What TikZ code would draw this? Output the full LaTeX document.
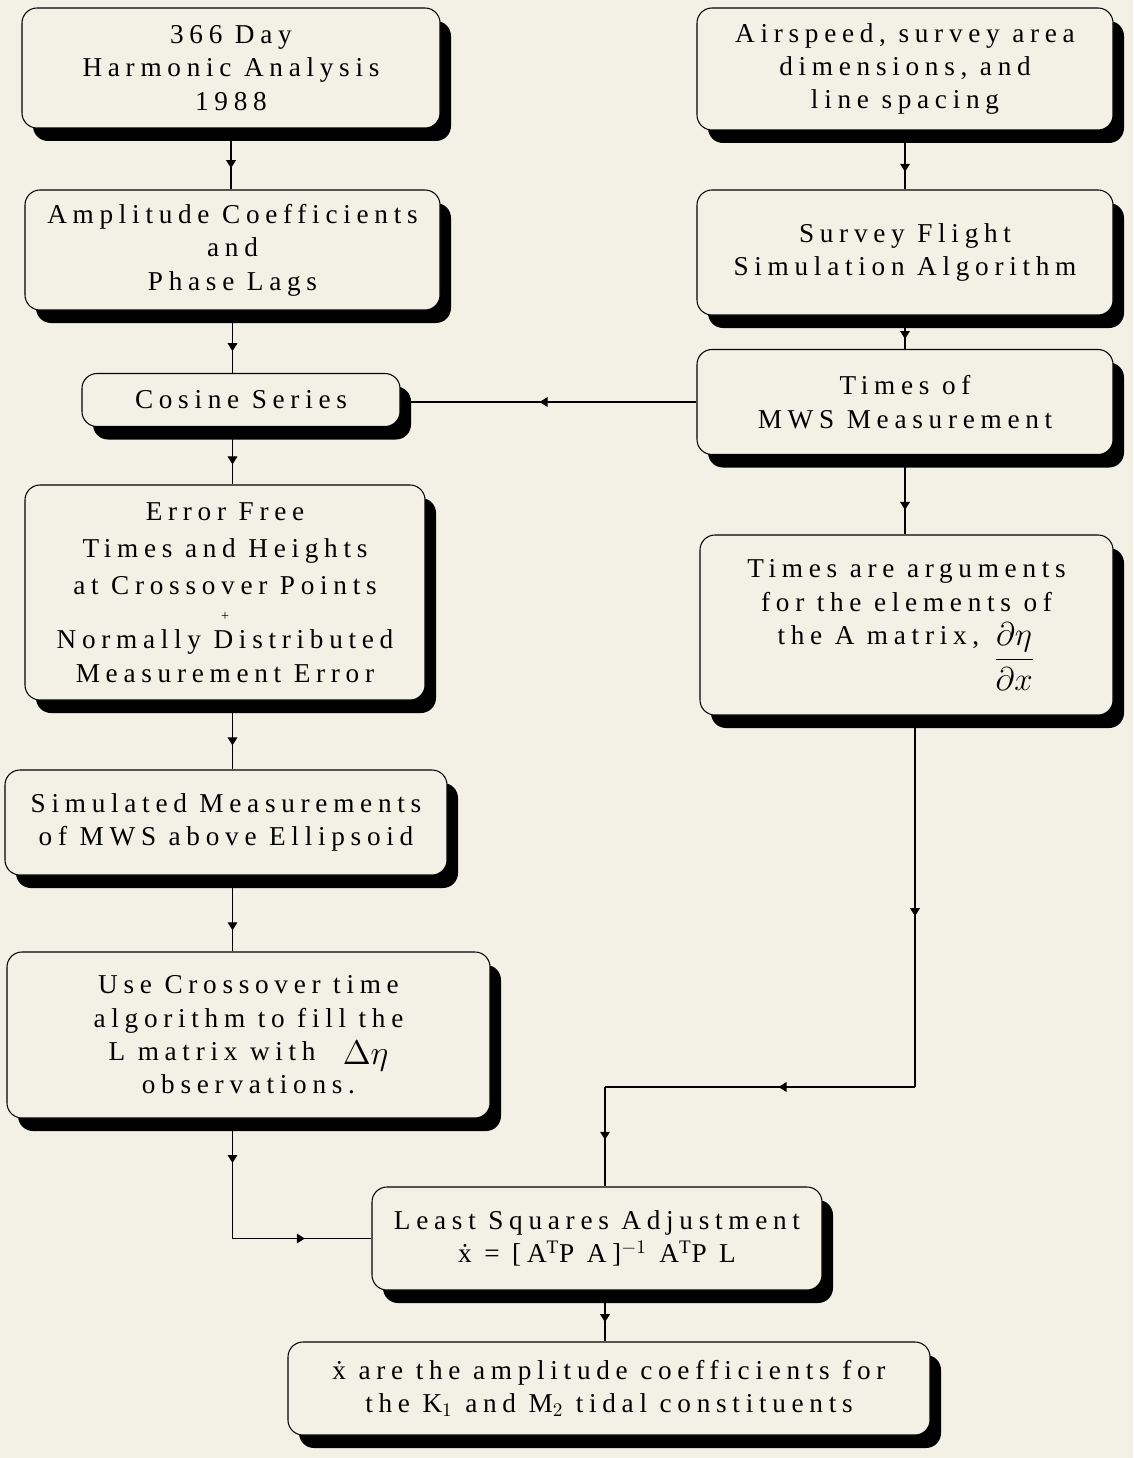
\documentclass[tikz,border=0pt]{standalone}
\usepackage{amsmath}
\usepackage{graphicx}
\usepackage{fontspec}
\setmainfont{Liberation Serif}[LetterSpace=21]
\usetikzlibrary{positioning,arrows.meta,decorations.markings,shadows}
\definecolor{paper}{RGB}{243,241,230}
\newcommand{\boxfont}{\fontsize{15.5}{19}\selectfont}
\tikzset{
  box/.style={rectangle, rounded corners=3mm, draw, line width=0.6pt, fill=paper,
              align=center, inner sep=2pt, font=\boxfont,
              drop shadow={shadow xshift=0.22cm, shadow yshift=-0.26cm,
                           fill=black, opacity=1}},
  flow/.style={line width=0.6pt},
  midarr/.style={flow, postaction={decorate},
                 decoration={markings, mark=at position #1 with
                   {\arrow{Triangle[width=5.5pt,length=4.5pt]}}}},
  midarr/.default=0.65,
}

\begin{document}
\begin{tikzpicture}
  \fill[paper] (0,0) rectangle (22.66,-29.16);
  \useasboundingbox (0,0) rectangle (22.66,-29.16);
  % left column
  \node[box, minimum width=8.36cm, minimum height=2.40cm] (harm) at (4.62,-1.36)
    {366 Day\\Harmonic Analysis\\1988};
  \node[box, minimum width=8.30cm, minimum height=2.40cm] (ampl) at (4.65,-5.00)
    {Amplitude Coefficients\\and\\Phase Lags};
  \node[box, minimum width=6.36cm, minimum height=1.06cm] (cos) at (4.82,-8.00)
    {Cosine Series};
  \node[box, minimum width=8.00cm, minimum height=4.30cm] (err) at (4.50,-11.85)
    {Error Free\\[2pt]Times and Heights\\[2pt]at Crossover Points\\[-4pt]{\footnotesize +}\\[-3pt]Normally Distributed\\Measurement Error};
  \node[box, minimum width=8.84cm, minimum height=2.10cm] (simu) at (4.52,-16.45)
    {Simulated Measurements\\of MWS above Ellipsoid};
  \node[box, minimum width=9.66cm, minimum height=3.32cm] (cross) at (4.97,-20.70)
    {Use Crossover time\\algorithm to fill the\\L matrix with\quad\raisebox{-2pt}{\scalebox{1.35}{$\Delta\eta$}}\\observations.};
  % right column
  \node[box, minimum width=8.32cm, minimum height=2.44cm] (air) at (18.10,-1.38)
    {Airspeed, survey area\\dimensions, and\\line spacing};
  \node[box, minimum width=8.32cm, minimum height=2.50cm] (flight) at (18.10,-5.05)
    {Survey Flight\\Simulation Algorithm};
  \node[box, minimum width=8.32cm, minimum height=2.10cm] (times) at (18.10,-8.04)
    {Times of\\MWS Measurement};
  \node[box, minimum width=8.26cm, minimum height=3.60cm] (args) at (18.13,-12.50)
    {Times are arguments\\for the elements of\\the A matrix,\enspace\raisebox{-13pt}{\scalebox{1.3}{$\dfrac{\partial\eta}{\partial x}$}}};
  % bottom
  \node[box, minimum width=9.00cm, minimum height=2.06cm] (lsq) at (11.94,-24.77)
    {Least Squares Adjustment\\\.x = [A$^{\mathrm{T}}$P A]$^{-1}$ A$^{\mathrm{T}}$P L};
  \node[box, minimum width=12.84cm, minimum height=1.86cm] (res) at (12.18,-27.77)
    {\.x are the amplitude coefficients for\\the K$_1$ and M$_2$ tidal constituents};
  % connectors
  \coordinate (c1) at (ampl.south |- lsq.west);
  \coordinate (c2) at (18.30,-21.74);
  \coordinate (c3) at (12.10,-21.74);
  \draw[midarr] (harm.south) -- (harm.south |- ampl.north);
  \draw[midarr] (ampl.south) -- (ampl.south |- cos.north);
  \draw[midarr] (ampl.south |- cos.south) -- (ampl.south |- err.north);
  \draw[midarr] (ampl.south |- err.south) -- (ampl.south |- simu.north);
  \draw[midarr=0.72] (ampl.south |- simu.south) -- (ampl.south |- cross.north);
  \draw[midarr=0.37] (ampl.south |- cross.south) -- (c1);
  \draw[midarr=0.52] (c1) -- (lsq.west);
  \draw[midarr=0.7] (air.south) -- (air.south |- flight.north);
  \draw[midarr=0.7] (flight.south) -- (flight.south |- times.north);
  \draw[midarr=0.53] (times.west) -- (times.west -| cos.east);
  \draw[midarr=0.69] (times.south) -- (times.south |- args.north);
  \draw[midarr=0.54] (args.south -| c2) -- (c2);
  \draw[midarr=0.44] (c2) -- (c3);
  \draw[midarr=0.53] (c3) -- (c3 |- lsq.north);
  \draw[midarr=0.62] (c3 |- lsq.south) -- (c3 |- res.north);
\end{tikzpicture}
\end{document}
